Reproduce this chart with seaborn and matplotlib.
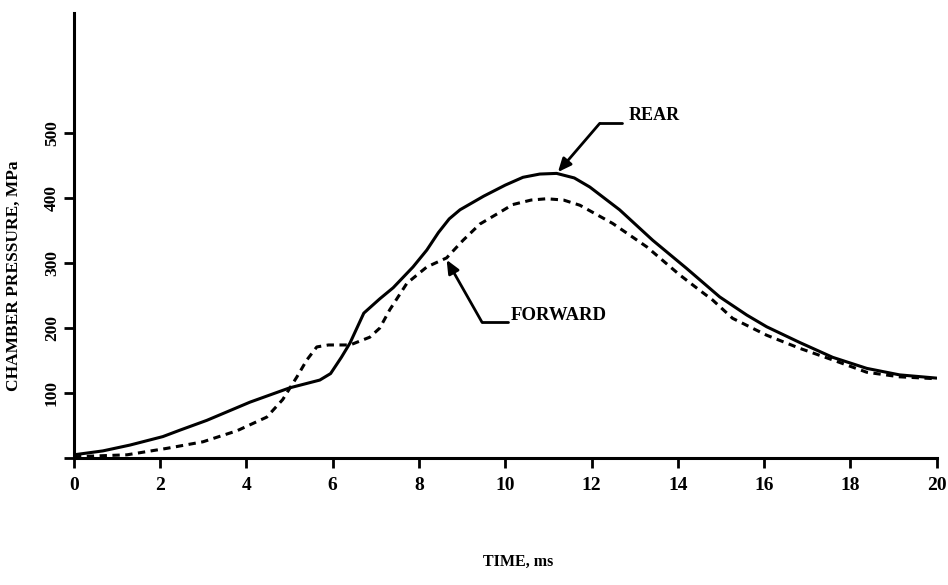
import numpy as np
import pandas as pd
import matplotlib
matplotlib.use("Agg")
import matplotlib.pyplot as plt
import seaborn as sns

### values (time in ms, pressure in MPa)

rear_time = [0, 0.67, 1.3, 2.06, 2.46, 3.08, 4.08, 5.0, 5.7, 5.95, 6.2, 6.4, 6.72,
             7.09, 7.4, 7.86, 8.18, 8.45, 8.7, 8.95, 9.5, 10.0, 10.41, 10.8, 11.19,
             11.6, 11.96, 12.65, 13.42, 14.2, 14.97, 15.6, 16.06, 16.82, 17.59,
             18.38, 19.14, 20]
rear_pressure = [5, 11, 20, 33, 43, 58, 86, 108, 120, 130, 155, 177, 223,
                 245, 262, 294, 320, 347, 368, 382, 403, 420, 432, 437, 438,
                 431, 417, 382, 335, 292, 248, 220, 202, 178, 155,
                 138, 128, 123]

forward_time = [0, 1.23, 2.16, 2.99, 3.78, 4.47, 4.84, 5.17, 5.4, 5.63, 5.9, 6.4,
                6.86, 7.09, 7.32, 7.72, 8.18, 8.64, 9.02, 9.41, 9.87, 10.17, 10.6,
                10.96, 11.35, 11.73, 12.49, 13.28, 14.04, 14.51, 14.81, 15.27,
                16.06, 16.82, 17.59, 18.38, 19.14, 20]
forward_pressure = [2, 5, 15, 25, 42, 63, 90, 125, 151, 171, 174, 174,
                    186, 200, 228, 269, 294, 308, 335, 360, 378, 390, 397,
                    399, 397, 389, 361, 325, 282, 258, 243, 215,
                    189, 169, 151, 132, 125, 122]

x_ticks = [0, 2, 4, 6, 8, 10, 12, 14, 16, 18, 20]
y_ticks = [0, 100, 200, 300, 400, 500]
y_tick_labels = ["", "100", "200", "300", "400", "500"]

rear = pd.DataFrame({"time": rear_time, "pressure": rear_pressure})
forward = pd.DataFrame({"time": forward_time, "pressure": forward_pressure})

sns.set_style("ticks")
plt.rcParams["font.family"] = ["Liberation Serif", "DejaVu Serif"]
plt.rcParams["font.weight"] = "bold"
for key in ["text.color", "axes.labelcolor", "axes.edgecolor", "xtick.color", "ytick.color"]:
    plt.rcParams[key] = "black"

fig = plt.figure(figsize=(9.48, 5.85), dpi=100)
ax = fig.add_axes([0.078, 0.217, 0.91, 0.761])

sns.lineplot(data=rear, x="time", y="pressure", color="black", lw=2.2, ax=ax)
sns.lineplot(data=forward, x="time", y="pressure", color="black", lw=2.2, ax=ax)
ax.lines[-1].set_dashes((2.4, 1.8))

ax.set_xlim(0, 20)
ax.set_ylim(0, 685)
ax.set_xticks(x_ticks)
ax.set_xticklabels([str(t) for t in x_ticks], fontsize=14, fontweight="bold")
ax.set_yticks(y_ticks)
ax.set_yticklabels(y_tick_labels, fontsize=12.5, fontweight="bold",
                   rotation=90, va="center")
ax.tick_params(axis="x", direction="out", length=7, width=2, pad=7)
ax.tick_params(axis="y", direction="out", length=7, width=2, pad=3)

for side in ["right", "top"]:
    ax.spines[side].set_visible(False)
for side in ["left", "bottom"]:
    ax.spines[side].set_linewidth(2.2)

ax.set_xlabel("TIME, ms", fontsize=11.5, fontweight="bold")
ax.xaxis.set_label_coords(0.515, -0.215)
ax.set_ylabel("CHAMBER PRESSURE, MPa", fontsize=12.5, fontweight="bold")
ax.yaxis.set_label_coords(-0.06, 0.41)

## callouts: short horizontal leader, then arrow to the curve

rear_tip, rear_elbow, rear_end = (11.22, 440), (12.19, 515), (12.70, 515)
fwd_tip, fwd_elbow, fwd_end = (8.64, 305), (9.46, 209), (10.06, 209)

for tip, elbow, end in [(rear_tip, rear_elbow, rear_end), (fwd_tip, fwd_elbow, fwd_end)]:
    ax.plot([elbow[0], end[0]], [elbow[1], end[1]], color="black", lw=2)
    ax.annotate("", xy=tip, xytext=elbow,
                arrowprops=dict(arrowstyle="-|>,head_length=0.8,head_width=0.35",
                                color="black", lw=2, shrinkA=0, shrinkB=0))

ax.text(12.85, 527, "REAR", fontsize=13, fontweight="bold", va="center")
ax.text(10.12, 220, "FORWARD", fontsize=13.5, fontweight="bold", va="center")

fig.savefig("out.png", dpi=100)
